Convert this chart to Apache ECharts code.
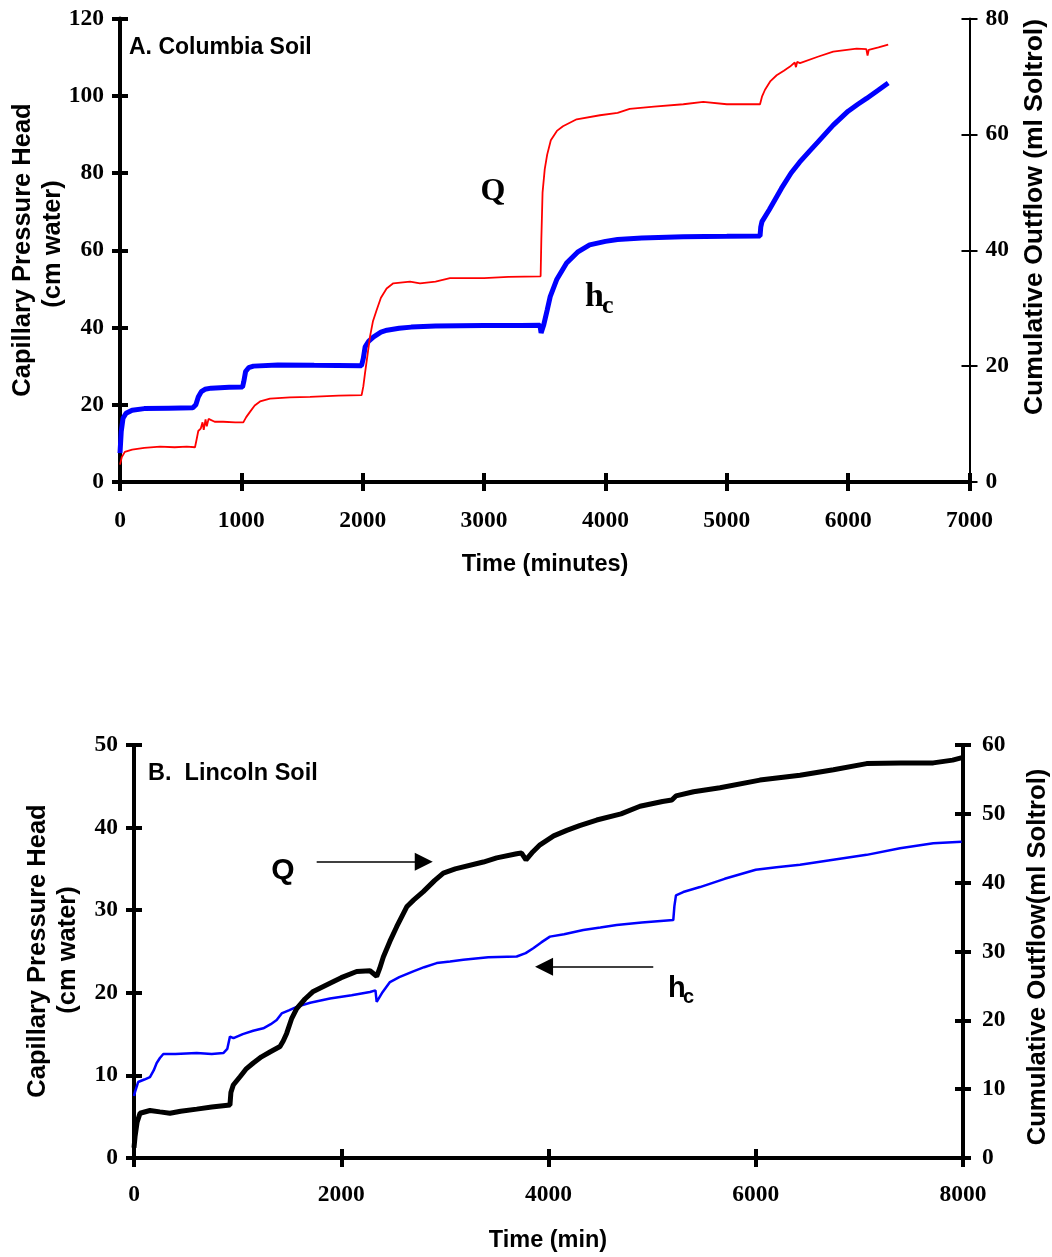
<!DOCTYPE html>
<html><head><meta charset="utf-8">
<script src="https://cdn.jsdelivr.net/npm/echarts@6/dist/echarts.min.js"></script>
<style>html,body{margin:0;padding:0;background:#fff}#c{width:1052px;height:1257px}</style>
</head><body><div id="c"></div>
<script>
// ---- Panel A: Columbia Soil (time in minutes) ----
const aHc = [[0,7.5],[10,13],[25,16.5],[50,17.8],[100,18.6],[200,19.0],[400,19.1],[600,19.2],[625,20],[645,22],[670,23.4],[700,24.0],[750,24.3],[900,24.5],[1010,24.6],[1020,26],[1035,28.6],[1060,29.6],[1100,30.0],[1300,30.3],[1600,30.2],[1990,30.1],[2005,32],[2020,35],[2050,36.5],[2090,37.6],[2150,38.8],[2200,39.3],[2300,39.8],[2400,40.1],[2600,40.4],[3000,40.5],[3300,40.5],[3460,40.6],[3470,38.6],[3490,40.5],[3520,44.5],[3545,48],[3600,52.5],[3680,56.7],[3770,59.5],[3870,61.4],[4000,62.3],[4100,62.8],[4300,63.2],[4640,63.5],[5000,63.6],[5274,63.7],[5280,66],[5290,67.4],[5350,70.5],[5450,76],[5530,80],[5600,82.8],[5680,85.6],[5750,88],[5877,92.4],[6000,96],[6080,97.8],[6152,99.3],[6250,101.5],[6330,103.3]];
const aQ = [[0,3.0],[15,4.3],[40,5.2],[100,5.6],[200,5.9],[330,6.1],[450,6.0],[550,6.1],[618,6.0],[630,7.2],[645,8.8],[665,9.2],[680,10.3],[690,9.0],[705,10.8],[715,9.6],[730,10.9],[745,10.7],[780,10.4],[850,10.4],[950,10.3],[1016,10.3],[1040,11.2],[1071,12.1],[1110,13.2],[1154,13.9],[1236,14.4],[1400,14.6],[1566,14.7],[1800,14.9],[1991,15.0],[2005,16.5],[2019,18.8],[2040,22],[2060,25.1],[2085,27.8],[2115,29.7],[2150,31.8],[2197,33.4],[2252,34.3],[2390,34.6],[2472,34.3],[2600,34.6],[2719,35.2],[3000,35.2],[3200,35.4],[3466,35.5],[3472,42],[3482,50],[3500,54],[3520,56.5],[3550,59],[3600,60.6],[3650,61.4],[3763,62.6],[3955,63.3],[4100,63.7],[4200,64.4],[4400,64.8],[4642,65.2],[4806,65.6],[5000,65.2],[5274,65.2],[5290,66.5],[5315,67.7],[5360,69.2],[5411,70.2],[5470,71],[5521,71.7],[5560,72.4],[5570,71.6],[5580,72.5],[5603,72.3],[5750,73.4],[5877,74.3],[6070,74.8],[6150,74.7],[6160,73.6],[6170,74.6],[6250,75.0],[6330,75.5]];
// ---- Panel B: Lincoln Soil (time in min) ----
const bHc = [[0,7.5],[10,8.0],[40,9.2],[100,9.5],[154,9.8],[190,10.6],[219,11.5],[250,12.1],[283,12.6],[400,12.6],[605,12.7],[750,12.6],[862,12.7],[900,13.2],[926,14.7],[960,14.5],[1050,15.0],[1150,15.4],[1248,15.7],[1320,16.2],[1377,16.7],[1425,17.5],[1500,17.9],[1570,18.3],[1700,18.8],[1891,19.3],[2100,19.7],[2277,20.1],[2330,20.3],[2342,18.9],[2400,20.1],[2470,21.3],[2560,21.9],[2695,22.6],[2800,23.1],[2921,23.6],[3050,23.8],[3178,24.0],[3419,24.3],[3693,24.4],[3780,24.8],[3853,25.4],[3930,26.1],[4014,26.8],[4150,27.1],[4336,27.6],[4500,27.9],[4658,28.2],[4900,28.5],[5204,28.8],[5215,30.5],[5230,31.8],[5300,32.2],[5462,32.8],[5700,33.8],[6000,34.9],[6200,35.2],[6427,35.5],[6748,36.1],[7070,36.7],[7392,37.5],[7713,38.1],[7987,38.3]];
const bQ = [[0,1.5],[10,3.1],[30,5.2],[58,6.5],[154,6.9],[250,6.7],[347,6.5],[450,6.8],[605,7.1],[750,7.4],[926,7.7],[935,9.5],[958,10.6],[1023,11.8],[1080,12.9],[1151,13.8],[1230,14.7],[1312,15.4],[1409,16.2],[1440,17],[1473,18.1],[1520,20.2],[1570,21.7],[1650,23.1],[1730,24.2],[1891,25.4],[2000,26.2],[2149,27.1],[2277,27.2],[2342,26.4],[2370,27.5],[2406,29.2],[2470,31.5],[2535,33.6],[2632,36.5],[2700,37.5],[2792,38.7],[2900,40.3],[2985,41.4],[3100,42],[3371,43.0],[3500,43.6],[3693,44.2],[3740,44.3],[3783,43.3],[3850,44.5],[3918,45.5],[4050,46.8],[4176,47.6],[4300,48.3],[4465,49.1],[4700,50],[4883,51.1],[5100,51.8],[5190,52.0],[5230,52.6],[5400,53.2],[5655,53.8],[6040,54.9],[6427,55.6],[6750,56.4],[7070,57.3],[7400,57.4],[7713,57.4],[7900,57.8],[8000,58.2]];
// arrows (data coords, panel B left axis)
const bArrowQ = [[1763,35.87],[2796,35.87]];
const bArrowHc = [[5011,23.16],[3957,23.16]];

const SERIF = 'Liberation Serif', SANS = 'Liberation Sans';
const lab = {fontFamily: SERIF, fontWeight: 'bold', fontSize: 23.5, color: '#000', formatter: function(v){ return String(v); }};

function xAx(g, max, iv, margin, dup){
  return {gridIndex:g, type:'value', min:0, max:max, interval:iv, position:'bottom',
    axisLine:{show:!dup, onZero:false, lineStyle:{color:'#000', width:4}},
    axisTick:{show:true, inside:dup, length:9, lineStyle:{color:'#000', width:4}},
    axisLabel:dup?{show:false}:Object.assign({margin:margin}, lab),
    splitLine:{show:false}};
}
function yAx(g, pos, max, iv, margin, w, dup){
  return {gridIndex:g, type:'value', min:0, max:max, interval:iv, position:pos,
    axisLine:{show:!dup, onZero:false, lineStyle:{color:'#000', width:w}},
    axisTick:{show:true, inside:dup, length:8, lineStyle:{color:'#000', width:w}},
    axisLabel:dup?{show:false}:Object.assign({margin:margin}, lab),
    splitLine:{show:false}};
}
function vtext(x, y, t, size){
  return {type:'text', x:x, y:y, rotation:Math.PI/2,
    style:{text:t, x:0, y:0, align:'center', verticalAlign:'middle', fontFamily:SANS, fontWeight:'bold', fontSize:size, fill:'#000'}};
}
function htext(x, y, t, size, fam, align){
  return {type:'text', style:{text:t, x:x, y:y, align:align||'center', verticalAlign:'middle', fontFamily:fam, fontWeight:'bold', fontSize:size, fill:'#000'}};
}

const chart = echarts.init(document.getElementById('c'), null, {renderer:'canvas'});
chart.setOption({
  animation:false,
  backgroundColor:'#fff',
  grid:[
    {left:120, top:18.5, width:849.5, height:463.5},
    {left:134, top:745, width:829, height:413}
  ],
  xAxis:[xAx(0,7000,1000,27,false), xAx(0,7000,1000,27,true), xAx(1,8000,2000,25,false), xAx(1,8000,2000,25,true)],
  yAxis:[
    yAx(0,'left',120,20,16,4,false), yAx(0,'left',120,20,16,4,true),
    yAx(0,'right',80,20,16,2,false), yAx(0,'right',80,20,16,2,true),
    yAx(1,'left',50,10,16,4,false), yAx(1,'left',50,10,16,4,true),
    yAx(1,'right',60,10,19,4,false), yAx(1,'right',60,10,19,4,true)
  ],
  series:[
    {type:'line', name:'hc A', xAxisIndex:0, yAxisIndex:0, data:aHc, showSymbol:false, smooth:false, lineStyle:{color:'#0000ff', width:5}, itemStyle:{color:'#0000ff'}},
    {type:'line', name:'Q A', xAxisIndex:0, yAxisIndex:2, data:aQ, showSymbol:false, lineStyle:{color:'#ff0000', width:1.8}, itemStyle:{color:'#ff0000'}},
    {type:'line', name:'hc B', xAxisIndex:2, yAxisIndex:4, data:bHc, showSymbol:false, lineStyle:{color:'#0000ff', width:2.5}, itemStyle:{color:'#0000ff'},
      markLine:{silent:true, animation:false, symbol:['none','triangle'], symbolSize:18, label:{show:false},
        lineStyle:{color:'#000', width:1.5, type:'solid'},
        data:[[{coord:bArrowQ[0]},{coord:bArrowQ[1]}],[{coord:bArrowHc[0]},{coord:bArrowHc[1]}]]}},
    {type:'line', name:'Q B', xAxisIndex:2, yAxisIndex:6, data:bQ, showSymbol:false, lineStyle:{color:'#000', width:5}, itemStyle:{color:'#000'}}
  ],
  graphic:[
    htext(129, 48, 'A. Columbia Soil', 23, SANS, 'left'),
    htext(545, 565, 'Time (minutes)', 23.5, SANS),
    vtext(23, 250, 'Capillary Pressure Head', 25.5),
    vtext(53, 244, '(cm water)', 25.5),
    vtext(1035, 217, 'Cumulative Outflow (ml Soltrol)', 26.5),
    htext(493, 192, 'Q', 32, SERIF),
    htext(585, 297, 'h', 34, SERIF, 'left'),
    htext(602, 306, 'c', 26, SERIF, 'left'),
    htext(148, 774, 'B.  Lincoln Soil', 23.5, SANS, 'left'),
    htext(548, 1241, 'Time (min)', 23.5, SANS),
    vtext(37.5, 951, 'Capillary Pressure Head', 25.5),
    vtext(68, 950, '(cm water)', 25.5),
    vtext(1038, 957, 'Cumulative Outflow(ml Soltrol)', 25.7),
    htext(283, 871, 'Q', 30, SANS),
    htext(668, 989, 'h', 29, SANS, 'left'),
    htext(683, 997, 'c', 20, SANS, 'left')
  ]
});
</script>
</body></html>
